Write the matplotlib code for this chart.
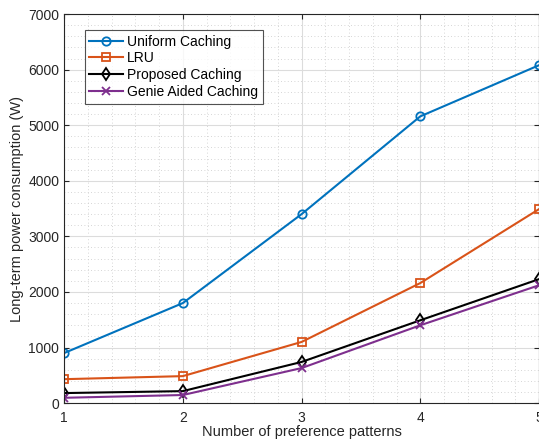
import matplotlib.pyplot as plt
import numpy as np
from matplotlib.ticker import MultipleLocator

plt.rcParams['font.family'] = ['Liberation Sans', 'DejaVu Sans']

patterns = [1, 2, 3, 4, 5]
uniform = [900, 1800, 3400, 5160, 6080]
lru = [430, 485, 1100, 2160, 3490]
proposed = [180, 215, 740, 1490, 2230]
genie = [95, 145, 630, 1400, 2120]

labels = ["Uniform Caching", "LRU", "Proposed Caching", "Genie Aided Caching"]
colors = ["#0072BD", "#D95319", "#000000", "#7E2F8E"]
markers = ["o", "s", "d", "x"]

fig = plt.figure(figsize=(5.39, 4.41), dpi=100)
ax = fig.add_axes([0.119, 0.086, 0.881, 0.882])

for ys, lab, c, m in zip([uniform, lru, proposed, genie], labels, colors, markers):
    ax.plot(patterns, ys, color=c, marker=m, markersize=6, markerfacecolor="none",
            markeredgewidth=1.3, linewidth=1.5, label=lab)

ax.set_xlim(1, 5)
ax.set_ylim(0, 7000)
ax.xaxis.set_major_locator(MultipleLocator(1))
ax.xaxis.set_minor_locator(MultipleLocator(0.2))
ax.yaxis.set_major_locator(MultipleLocator(1000))
ax.yaxis.set_minor_locator(MultipleLocator(200))
ax.grid(which="major", color="#dcdcdc", linewidth=0.8)
ax.grid(which="minor", color="#c8c8c8", linestyle=(0, (1, 3)), linewidth=0.6)
ax.set_axisbelow(True)

tc = "#262626"
for s in ax.spines.values():
    s.set_color(tc)
    s.set_linewidth(0.8)
ax.tick_params(which="both", direction="in", colors=tc, labelsize=10, top=True, right=True)
ax.tick_params(axis="x", pad=6)
ax.tick_params(which="minor", length=0)
ax.set_xlabel("Number of preference patterns", fontsize=10.5, color=tc, labelpad=0)
ax.set_ylabel("Long-term power consumption (W)", fontsize=10.5, color=tc, labelpad=3)

leg = ax.legend(loc="upper left", bbox_to_anchor=(0.043, 0.96), fontsize=10,
                frameon=True, fancybox=False, edgecolor=tc, borderpad=0.35,
                labelspacing=0.2, handlelength=2.4, handletextpad=0.3,
                borderaxespad=0.0)
leg.get_frame().set_linewidth(0.8)

fig.savefig("out.png", dpi=100)
